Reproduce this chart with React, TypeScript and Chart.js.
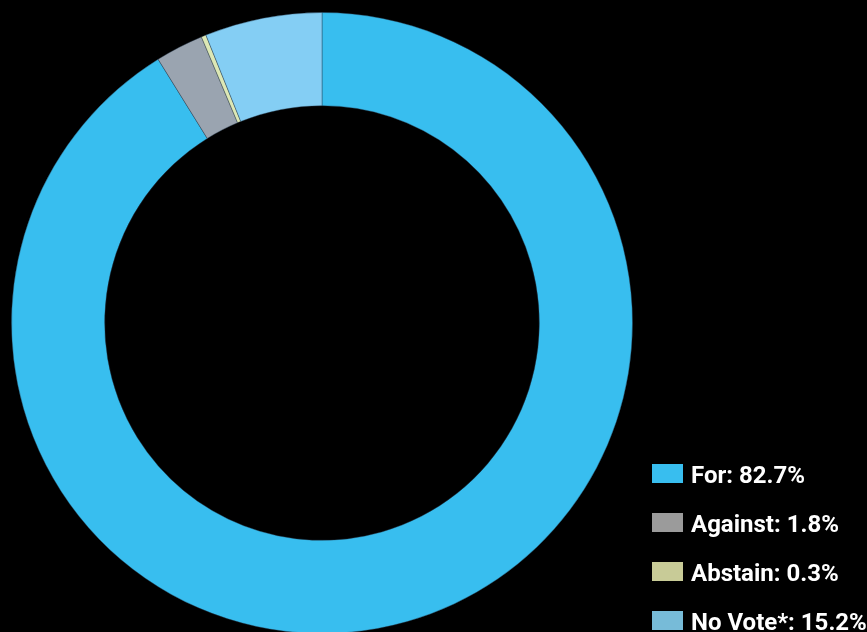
import React, { useEffect, useRef } from "react";
import { Chart, registerables } from "chart.js";

Chart.register(...registerables);

// Data
const categories = ["For", "Against", "Abstain", "No Vote*"];
const sliceValues = [91.15, 2.5, 0.25, 6.1];
const legendPercents = ["82.7%", "1.8%", "0.3%", "15.2%"];
const sliceColors = ["#38BEEF", "#9AA4B0", "#DDE8B5", "#84CEF4"];
const legendColors = ["#38BEEF", "#9B9B9B", "#C8CB97", "#77BBD8"];

const legendPlugin = {
  id: "voteLegend",
  afterDraw(chart: any) {
    const ctx = chart.ctx as CanvasRenderingContext2D;
    ctx.save();
    ctx.font = "bold 24px Roboto, 'Liberation Sans', sans-serif";
    ctx.textBaseline = "alphabetic";
    ctx.textAlign = "left";
    categories.forEach((c, i) => {
      const y = 464 + i * 49;
      ctx.fillStyle = legendColors[i];
      ctx.fillRect(652, y, 31, 19);
      ctx.fillStyle = "#ffffff";
      ctx.fillText(`${c}: ${legendPercents[i]}`, 691, y + 18.5);
    });
    ctx.restore();
  },
};

export default function App() {
  const canvasRef = useRef<HTMLCanvasElement | null>(null);

  useEffect(() => {
    const canvas = canvasRef.current;
    if (!canvas) return;
    const chart = new Chart(canvas, {
      type: "doughnut",
      data: {
        labels: categories,
        datasets: [
          {
            data: sliceValues,
            backgroundColor: sliceColors,
            borderColor: "rgba(40,60,80,0.4)",
            borderWidth: 1,
            hoverBorderWidth: 1,
            hoverOffset: 0,
          },
        ],
      },
      options: {
        responsive: false,
        animation: false,
        events: [],
        cutout: "70%",
        layout: { padding: { left: 11, right: 234, top: 12, bottom: 12 } },
        plugins: {
          legend: { display: false },
          tooltip: { enabled: false },
        },
      },
      plugins: [legendPlugin],
    });
    return () => chart.destroy();
  }, []);

  return (
    <div
      style={{
        position: "fixed",
        left: 0,
        top: 0,
        width: 867,
        height: 632,
        overflow: "hidden",
        background: "#000000",
      }}
    >
      <canvas
        ref={canvasRef}
        width={867}
        height={646}
        style={{ display: "block", width: 867, height: 646 }}
      />
    </div>
  );
}
